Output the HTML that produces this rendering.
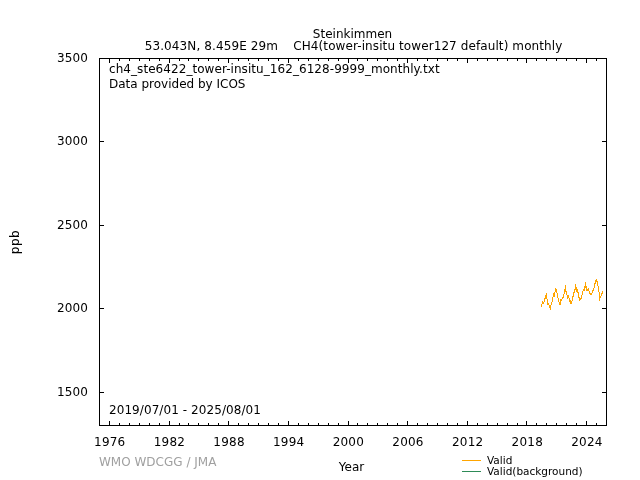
<!DOCTYPE html>
<html><head><meta charset="utf-8"><style>
html,body{margin:0;padding:0;background:#fff;width:640px;height:480px;overflow:hidden}
svg{display:block}
text{font-family:"DejaVu Sans","Liberation Sans",sans-serif;font-size:12px;fill:#000}
</style></head><body>
<svg width="640" height="480" viewBox="0 0 640 480">
<rect width="640" height="480" fill="#fff"/>
<g shape-rendering="crispEdges">
<rect x="99" y="58" width="508" height="1" fill="#000"/>
<rect x="99" y="425" width="508" height="1" fill="#000"/>
<rect x="99" y="58" width="1" height="368" fill="#000"/>
<rect x="606" y="58" width="1" height="368" fill="#000"/>
<rect x="100" y="392" width="4" height="1" fill="#000"/>
<rect x="602" y="392" width="4" height="1" fill="#000"/>
<rect x="100" y="308" width="4" height="1" fill="#000"/>
<rect x="602" y="308" width="4" height="1" fill="#000"/>
<rect x="100" y="225" width="4" height="1" fill="#000"/>
<rect x="602" y="225" width="4" height="1" fill="#000"/>
<rect x="100" y="141" width="4" height="1" fill="#000"/>
<rect x="602" y="141" width="4" height="1" fill="#000"/>
<rect x="100" y="58" width="4" height="1" fill="#000"/>
<rect x="602" y="58" width="4" height="1" fill="#000"/>
<rect x="109" y="421" width="1" height="4" fill="#000"/>
<rect x="109" y="59" width="1" height="4" fill="#000"/>
<rect x="119" y="423" width="1" height="2" fill="#000"/>
<rect x="119" y="59" width="1" height="2" fill="#000"/>
<rect x="129" y="423" width="1" height="2" fill="#000"/>
<rect x="129" y="59" width="1" height="2" fill="#000"/>
<rect x="139" y="423" width="1" height="2" fill="#000"/>
<rect x="139" y="59" width="1" height="2" fill="#000"/>
<rect x="149" y="423" width="1" height="2" fill="#000"/>
<rect x="149" y="59" width="1" height="2" fill="#000"/>
<rect x="159" y="423" width="1" height="2" fill="#000"/>
<rect x="159" y="59" width="1" height="2" fill="#000"/>
<rect x="169" y="421" width="1" height="4" fill="#000"/>
<rect x="169" y="59" width="1" height="4" fill="#000"/>
<rect x="179" y="423" width="1" height="2" fill="#000"/>
<rect x="179" y="59" width="1" height="2" fill="#000"/>
<rect x="188" y="423" width="1" height="2" fill="#000"/>
<rect x="188" y="59" width="1" height="2" fill="#000"/>
<rect x="198" y="423" width="1" height="2" fill="#000"/>
<rect x="198" y="59" width="1" height="2" fill="#000"/>
<rect x="208" y="423" width="1" height="2" fill="#000"/>
<rect x="208" y="59" width="1" height="2" fill="#000"/>
<rect x="218" y="423" width="1" height="2" fill="#000"/>
<rect x="218" y="59" width="1" height="2" fill="#000"/>
<rect x="228" y="421" width="1" height="4" fill="#000"/>
<rect x="228" y="59" width="1" height="4" fill="#000"/>
<rect x="238" y="423" width="1" height="2" fill="#000"/>
<rect x="238" y="59" width="1" height="2" fill="#000"/>
<rect x="248" y="423" width="1" height="2" fill="#000"/>
<rect x="248" y="59" width="1" height="2" fill="#000"/>
<rect x="258" y="423" width="1" height="2" fill="#000"/>
<rect x="258" y="59" width="1" height="2" fill="#000"/>
<rect x="268" y="423" width="1" height="2" fill="#000"/>
<rect x="268" y="59" width="1" height="2" fill="#000"/>
<rect x="278" y="423" width="1" height="2" fill="#000"/>
<rect x="278" y="59" width="1" height="2" fill="#000"/>
<rect x="288" y="421" width="1" height="4" fill="#000"/>
<rect x="288" y="59" width="1" height="4" fill="#000"/>
<rect x="298" y="423" width="1" height="2" fill="#000"/>
<rect x="298" y="59" width="1" height="2" fill="#000"/>
<rect x="308" y="423" width="1" height="2" fill="#000"/>
<rect x="308" y="59" width="1" height="2" fill="#000"/>
<rect x="318" y="423" width="1" height="2" fill="#000"/>
<rect x="318" y="59" width="1" height="2" fill="#000"/>
<rect x="328" y="423" width="1" height="2" fill="#000"/>
<rect x="328" y="59" width="1" height="2" fill="#000"/>
<rect x="338" y="423" width="1" height="2" fill="#000"/>
<rect x="338" y="59" width="1" height="2" fill="#000"/>
<rect x="348" y="421" width="1" height="4" fill="#000"/>
<rect x="348" y="59" width="1" height="4" fill="#000"/>
<rect x="357" y="423" width="1" height="2" fill="#000"/>
<rect x="357" y="59" width="1" height="2" fill="#000"/>
<rect x="367" y="423" width="1" height="2" fill="#000"/>
<rect x="367" y="59" width="1" height="2" fill="#000"/>
<rect x="377" y="423" width="1" height="2" fill="#000"/>
<rect x="377" y="59" width="1" height="2" fill="#000"/>
<rect x="387" y="423" width="1" height="2" fill="#000"/>
<rect x="387" y="59" width="1" height="2" fill="#000"/>
<rect x="397" y="423" width="1" height="2" fill="#000"/>
<rect x="397" y="59" width="1" height="2" fill="#000"/>
<rect x="407" y="421" width="1" height="4" fill="#000"/>
<rect x="407" y="59" width="1" height="4" fill="#000"/>
<rect x="417" y="423" width="1" height="2" fill="#000"/>
<rect x="417" y="59" width="1" height="2" fill="#000"/>
<rect x="427" y="423" width="1" height="2" fill="#000"/>
<rect x="427" y="59" width="1" height="2" fill="#000"/>
<rect x="437" y="423" width="1" height="2" fill="#000"/>
<rect x="437" y="59" width="1" height="2" fill="#000"/>
<rect x="447" y="423" width="1" height="2" fill="#000"/>
<rect x="447" y="59" width="1" height="2" fill="#000"/>
<rect x="457" y="423" width="1" height="2" fill="#000"/>
<rect x="457" y="59" width="1" height="2" fill="#000"/>
<rect x="467" y="421" width="1" height="4" fill="#000"/>
<rect x="467" y="59" width="1" height="4" fill="#000"/>
<rect x="477" y="423" width="1" height="2" fill="#000"/>
<rect x="477" y="59" width="1" height="2" fill="#000"/>
<rect x="487" y="423" width="1" height="2" fill="#000"/>
<rect x="487" y="59" width="1" height="2" fill="#000"/>
<rect x="497" y="423" width="1" height="2" fill="#000"/>
<rect x="497" y="59" width="1" height="2" fill="#000"/>
<rect x="507" y="423" width="1" height="2" fill="#000"/>
<rect x="507" y="59" width="1" height="2" fill="#000"/>
<rect x="517" y="423" width="1" height="2" fill="#000"/>
<rect x="517" y="59" width="1" height="2" fill="#000"/>
<rect x="526" y="421" width="1" height="4" fill="#000"/>
<rect x="526" y="59" width="1" height="4" fill="#000"/>
<rect x="536" y="423" width="1" height="2" fill="#000"/>
<rect x="536" y="59" width="1" height="2" fill="#000"/>
<rect x="546" y="423" width="1" height="2" fill="#000"/>
<rect x="546" y="59" width="1" height="2" fill="#000"/>
<rect x="556" y="423" width="1" height="2" fill="#000"/>
<rect x="556" y="59" width="1" height="2" fill="#000"/>
<rect x="566" y="423" width="1" height="2" fill="#000"/>
<rect x="566" y="59" width="1" height="2" fill="#000"/>
<rect x="576" y="423" width="1" height="2" fill="#000"/>
<rect x="576" y="59" width="1" height="2" fill="#000"/>
<rect x="586" y="421" width="1" height="4" fill="#000"/>
<rect x="586" y="59" width="1" height="4" fill="#000"/>
<rect x="596" y="423" width="1" height="2" fill="#000"/>
<rect x="596" y="59" width="1" height="2" fill="#000"/>
<rect x="541" y="304" width="1" height="3" fill="#ffa500"/>
<rect x="542" y="301" width="1" height="3" fill="#ffa500"/>
<rect x="543" y="302" width="1" height="2" fill="#ffa500"/>
<rect x="544" y="298" width="1" height="4" fill="#ffa500"/>
<rect x="545" y="295" width="1" height="4" fill="#ffa500"/>
<rect x="546" y="293" width="1" height="6" fill="#ffa500"/>
<rect x="547" y="299" width="1" height="6" fill="#ffa500"/>
<rect x="548" y="303" width="1" height="2" fill="#ffa500"/>
<rect x="549" y="305" width="1" height="3" fill="#ffa500"/>
<rect x="550" y="305" width="1" height="5" fill="#ffa500"/>
<rect x="551" y="302" width="1" height="3" fill="#ffa500"/>
<rect x="552" y="297" width="1" height="5" fill="#ffa500"/>
<rect x="553" y="293" width="1" height="4" fill="#ffa500"/>
<rect x="554" y="292" width="1" height="5" fill="#ffa500"/>
<rect x="555" y="288" width="1" height="4" fill="#ffa500"/>
<rect x="556" y="289" width="1" height="4" fill="#ffa500"/>
<rect x="557" y="293" width="1" height="5" fill="#ffa500"/>
<rect x="558" y="298" width="1" height="4" fill="#ffa500"/>
<rect x="559" y="302" width="1" height="3" fill="#ffa500"/>
<rect x="560" y="299" width="1" height="6" fill="#ffa500"/>
<rect x="561" y="299" width="1" height="2" fill="#ffa500"/>
<rect x="562" y="297" width="1" height="2" fill="#ffa500"/>
<rect x="563" y="294" width="1" height="4" fill="#ffa500"/>
<rect x="564" y="289" width="1" height="5" fill="#ffa500"/>
<rect x="565" y="285" width="1" height="7" fill="#ffa500"/>
<rect x="566" y="291" width="1" height="4" fill="#ffa500"/>
<rect x="567" y="295" width="1" height="4" fill="#ffa500"/>
<rect x="568" y="295" width="1" height="3" fill="#ffa500"/>
<rect x="569" y="298" width="1" height="4" fill="#ffa500"/>
<rect x="570" y="300" width="1" height="4" fill="#ffa500"/>
<rect x="571" y="301" width="1" height="3" fill="#ffa500"/>
<rect x="572" y="296" width="1" height="5" fill="#ffa500"/>
<rect x="573" y="292" width="1" height="5" fill="#ffa500"/>
<rect x="574" y="289" width="1" height="4" fill="#ffa500"/>
<rect x="575" y="284" width="1" height="6" fill="#ffa500"/>
<rect x="576" y="287" width="1" height="5" fill="#ffa500"/>
<rect x="577" y="289" width="1" height="4" fill="#ffa500"/>
<rect x="578" y="292" width="1" height="6" fill="#ffa500"/>
<rect x="579" y="297" width="1" height="4" fill="#ffa500"/>
<rect x="580" y="298" width="1" height="2" fill="#ffa500"/>
<rect x="581" y="295" width="1" height="4" fill="#ffa500"/>
<rect x="582" y="291" width="1" height="4" fill="#ffa500"/>
<rect x="583" y="289" width="1" height="2" fill="#ffa500"/>
<rect x="584" y="286" width="1" height="5" fill="#ffa500"/>
<rect x="585" y="282" width="1" height="6" fill="#ffa500"/>
<rect x="586" y="286" width="1" height="5" fill="#ffa500"/>
<rect x="587" y="289" width="1" height="2" fill="#ffa500"/>
<rect x="588" y="288" width="1" height="3" fill="#ffa500"/>
<rect x="589" y="291" width="1" height="3" fill="#ffa500"/>
<rect x="590" y="293" width="1" height="2" fill="#ffa500"/>
<rect x="591" y="293" width="1" height="2" fill="#ffa500"/>
<rect x="592" y="290" width="1" height="3" fill="#ffa500"/>
<rect x="593" y="288" width="1" height="3" fill="#ffa500"/>
<rect x="594" y="283" width="1" height="5" fill="#ffa500"/>
<rect x="595" y="280" width="1" height="4" fill="#ffa500"/>
<rect x="596" y="279" width="1" height="3" fill="#ffa500"/>
<rect x="597" y="281" width="1" height="5" fill="#ffa500"/>
<rect x="598" y="286" width="1" height="6" fill="#ffa500"/>
<rect x="599" y="292" width="1" height="9" fill="#ffa500"/>
<rect x="600" y="296" width="1" height="2" fill="#ffa500"/>
<rect x="601" y="293" width="1" height="3" fill="#ffa500"/>
<rect x="602" y="291" width="1" height="3" fill="#ffa500"/>
<rect x="462" y="460" width="19" height="1" fill="#ffa500"/>
<rect x="462" y="471" width="19" height="1" fill="#2e8b57"/>
</g>
<text x="352.5" y="38" text-anchor="middle">Steinkimmen</text>
<text x="144.66" y="50" textLength="133.3" lengthAdjust="spacing">53.043N, 8.459E 29m</text>
<text x="293.22" y="50" textLength="269.1" lengthAdjust="spacing">CH4(tower-insitu tower127 default) monthly</text>
<text x="109" y="73" textLength="330.6" lengthAdjust="spacing">ch4_ste6422_tower-insitu_162_6128-9999_monthly.txt</text>
<text x="109" y="88">Data provided by ICOS</text>
<text x="109" y="414" textLength="151.9" lengthAdjust="spacing">2019/07/01 - 2025/08/01</text>
<text x="88" y="396" text-anchor="end" textLength="31.0" lengthAdjust="spacing">1500</text>
<text x="88" y="312" text-anchor="end" textLength="31.0" lengthAdjust="spacing">2000</text>
<text x="88" y="229" text-anchor="end" textLength="31.0" lengthAdjust="spacing">2500</text>
<text x="88" y="145" text-anchor="end" textLength="31.0" lengthAdjust="spacing">3000</text>
<text x="88" y="62" text-anchor="end" textLength="31.0" lengthAdjust="spacing">3500</text>
<text x="109.64" y="446" text-anchor="middle" textLength="31.2" lengthAdjust="spacing">1976</text>
<text x="169.29" y="446" text-anchor="middle" textLength="31.2" lengthAdjust="spacing">1982</text>
<text x="228.94" y="446" text-anchor="middle" textLength="31.2" lengthAdjust="spacing">1988</text>
<text x="288.58" y="446" text-anchor="middle" textLength="31.2" lengthAdjust="spacing">1994</text>
<text x="348.23" y="446" text-anchor="middle" textLength="31.2" lengthAdjust="spacing">2000</text>
<text x="407.88" y="446" text-anchor="middle" textLength="31.2" lengthAdjust="spacing">2006</text>
<text x="467.52" y="446" text-anchor="middle" textLength="31.2" lengthAdjust="spacing">2012</text>
<text x="527.17" y="446" text-anchor="middle" textLength="31.2" lengthAdjust="spacing">2018</text>
<text x="586.82" y="446" text-anchor="middle" textLength="31.2" lengthAdjust="spacing">2024</text>
<text x="19" y="242.3" text-anchor="middle" textLength="24" lengthAdjust="spacing" transform="rotate(-90 19 242.3)">ppb</text>
<text x="351.5" y="471" text-anchor="middle">Year</text>
<text x="99" y="466" style="fill:#a0a0a0">WMO WDCGG / JMA</text>
<text x="487" y="464" style="font-size:10.5px">Valid</text>
<text x="487" y="475" style="font-size:10.5px">Valid(background)</text>
</svg>
</body></html>
